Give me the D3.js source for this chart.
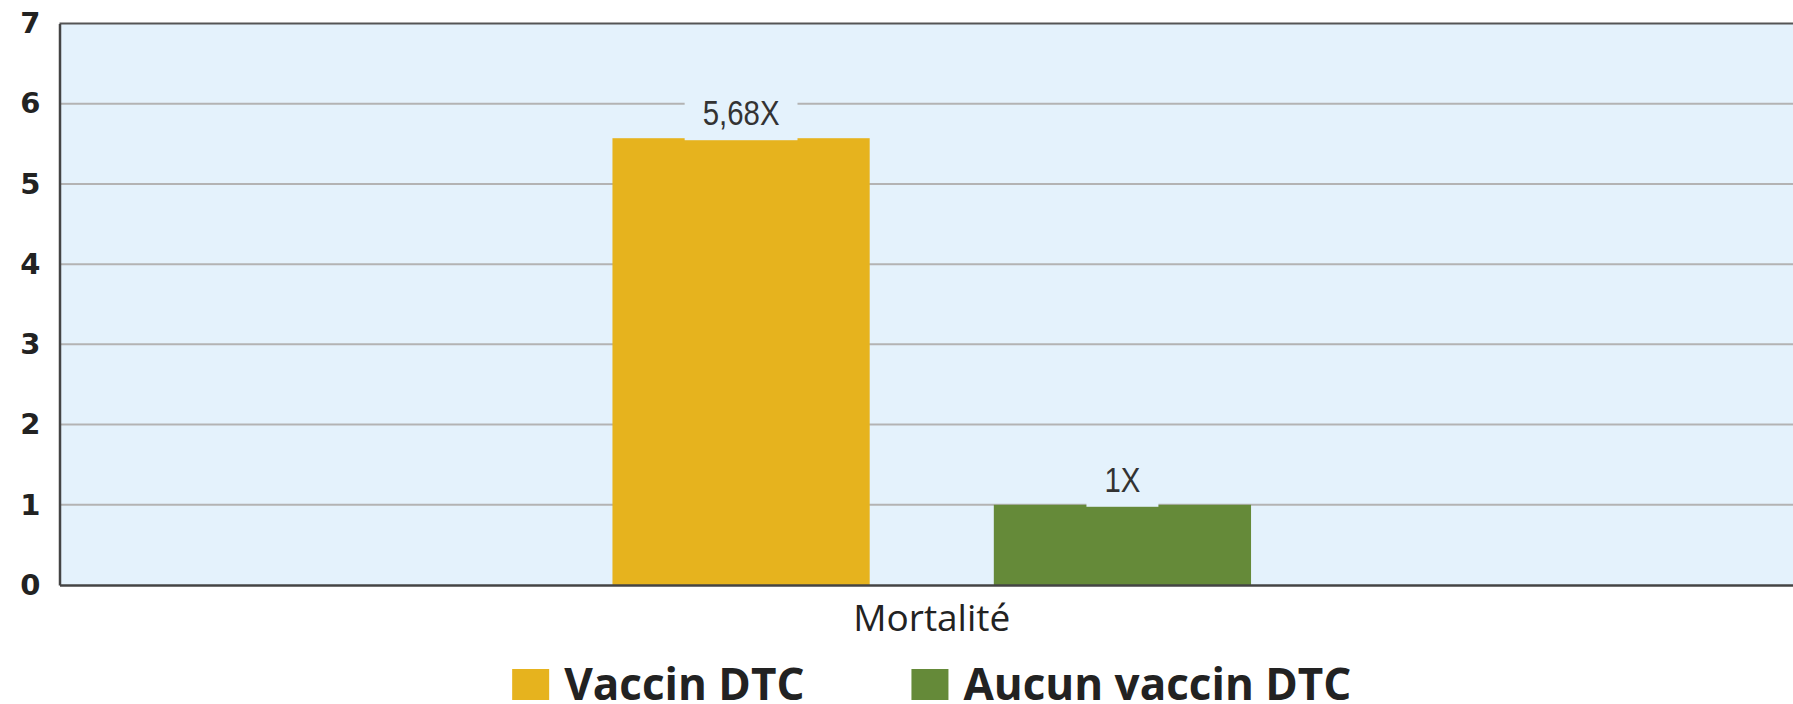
<!DOCTYPE html>
<html lang="fr">
<head>
	<meta charset="UTF-8">
	<title>Mortalité</title>
	<script src="https://d3js.org/d3.v7.min.js"></script>
	<style>
		body { margin: 0; background: #fff; }
	</style>
</head>
<body>
	<div class="box"></div>

	<script type="text/javascript">
		let categories = ['Mortalité']
		let series = ['Vaccin DTC', 'Aucun vaccin DTC']
		let values = [5.57, 1]
		let valueLabels = ['5,68X', '1X']
		let colors = ['#e6b31e', '#658a39']
		let yTicks = [0, 1, 2, 3, 4, 5, 6, 7]

		let width = 1793
		let height = 704
		let plot = { left: 59.5, right: 1804, top: 23.5, bottom: 585 }
		let bg = '#e4f2fc'

		let svg = d3.select('.box').append('svg')
			.attr('width', width).attr('height', height)
			.style('display', 'block')

		let y = d3.scaleLinear().domain([0, 7]).range([plot.bottom, plot.top])
		let x0 = d3.scaleBand().domain(categories).range([plot.left, plot.right])
		let x1 = d3.scaleBand().domain(series).range([0, x0.bandwidth()])
			.paddingInner(0.3255).paddingOuter(1.45)

		// plot background
		svg.append('rect')
			.attr('x', plot.left).attr('y', plot.top)
			.attr('width', plot.right - plot.left).attr('height', plot.bottom - plot.top)
			.attr('fill', bg)

		// gridlines
		svg.append('g')
			.selectAll('line').data(yTicks.filter(d => d > 0 && d < 7))
			.enter().append('line')
			.attr('x1', plot.left).attr('x2', plot.right)
			.attr('y1', d => y(d)).attr('y2', d => y(d))
			.attr('stroke', '#b3b3b3').attr('stroke-width', 2)

		// top border
		svg.append('line')
			.attr('x1', plot.left).attr('x2', plot.right)
			.attr('y1', y(7)).attr('y2', y(7))
			.attr('stroke', '#555').attr('stroke-width', 2)

		// y axis
		let yAxis = d3.axisLeft(y).tickValues(yTicks).tickFormat(d3.format('d')).tickSize(0).tickPadding(19)
		let gy = svg.append('g').attr('transform', `translate(${plot.left},0)`).call(yAxis)
		gy.select('.domain').attr('stroke', '#444').attr('stroke-width', 2.5)
		gy.selectAll('text')
			.attr('font-family', '"DejaVu Sans", sans-serif')
			.attr('font-weight', 700)
			.attr('font-size', '29px')
			.attr('fill', '#222')

		// bars
		let rows = series.map((s, i) => ({ series: s, value: values[i], label: valueLabels[i], color: colors[i], cat: categories[0] }))

		let groups = svg.append('g')
		groups.selectAll('rect').data(rows)
			.enter().append('rect')
			.attr('x', d => x0(d.cat) + x1(d.series))
			.attr('y', d => y(d.value))
			.attr('width', x1.bandwidth())
			.attr('height', d => y(0) - y(d.value))
			.attr('fill', d => d.color)

		// x axis
		let xAxis = d3.axisBottom(x0).tickSize(0).tickPadding(20)
		let gx = svg.append('g').attr('transform', `translate(0,${plot.bottom})`).call(xAxis)
		gx.select('.domain').attr('stroke', '#444').attr('stroke-width', 2.5)
		gx.selectAll('text')
			.attr('font-family', '"Open Sans", sans-serif')
			.attr('font-size', '37px')
			.attr('fill', '#222')
			.attr('dy', '0.71em')

		// value labels (condensed) with background box
		let lab = svg.append('g').selectAll('g').data(rows).enter().append('g')
		let labText = lab.append('text')
			.attr('x', d => x0(d.cat) + x1(d.series) + x1.bandwidth() / 2)
			.attr('y', d => y(d.value) - 13)
			.attr('text-anchor', 'middle')
			.attr('font-family', '"Liberation Sans", sans-serif')
			.attr('font-size', '35px')
			.attr('fill', '#333')
			.text(d => d.label)
		labText.each(function (d) {
			let w = this.getComputedTextLength()
			d3.select(this).attr('textLength', w * 0.84).attr('lengthAdjust', 'spacingAndGlyphs')
			let bb = this.getBBox()
			d3.select(this.parentNode).insert('rect', 'text')
				.attr('x', bb.x - 18).attr('y', bb.y - 4)
				.attr('width', bb.width + 36)
				.attr('height', y(d.value) + 2 - (bb.y - 4))
				.attr('fill', bg)
		})

		// legend
		let legend = svg.append('g')
		let sw = 37
		let items = legend.selectAll('g').data(rows).enter().append('g')
		items.append('rect')
			.attr('width', sw).attr('height', 31)
			.attr('y', 669)
			.attr('fill', d => d.color)
		items.append('text')
			.attr('x', sw + 15)
			.attr('y', 700)
			.attr('font-family', '"Open Sans", sans-serif')
			.attr('font-weight', 700)
			.attr('font-size', '44px')
			.attr('fill', '#222')
			.text(d => d.series)
		let pos = 0
		let offsets = []
		items.each(function () {
			offsets.push(pos)
			pos += this.getBBox().width + 107
		})
		let total = pos - 107
		let startX = x0(categories[0]) + x0.bandwidth() / 2 - total / 2
		items.attr('transform', (d, i) => `translate(${startX + offsets[i]},0)`)
	</script>
</body>
</html>
